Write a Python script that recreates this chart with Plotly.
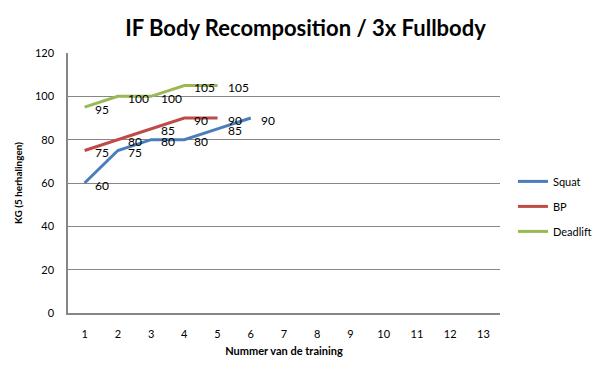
import plotly.graph_objects as go

categories = [str(i) for i in range(1, 14)]
squat = [60, 75, 80, 80, 85, 90]
bp = [75, 80, 85, 90, 90]
deadlift = [95, 100, 100, 105, 105]
series_names = ["Squat", "BP", "Deadlift"]
colors = ["#4A7EBB", "#BE4B48", "#98B954"]
FONT = "Lato, sans-serif"

fig = go.Figure()
for name, vals, col in zip(series_names, [squat, bp, deadlift], colors):
    fig.add_trace(go.Scatter(
        x=categories[:len(vals)], y=vals, name=name, mode="lines",
        line=dict(color=col, width=3), legendgroup=name,
    ))
    for i, v in enumerate(vals):
        fig.add_annotation(x=i, y=v, text=str(v), showarrow=False,
                           xanchor="left", yanchor="middle", xshift=8, yshift=-2,
                           font=dict(family=FONT, size=12, color="black"))

fig.update_layout(
    width=595, height=363,
    margin=dict(l=60, r=103, t=45, b=58, autoexpand=False),
    paper_bgcolor="white", plot_bgcolor="white",
    font=dict(family=FONT, size=11, color="black"),
    title=dict(text="<b>IF Body Recomposition / 3x Fullbody</b>", x=0.5, xanchor="center",
               y=0.945, yanchor="middle", font=dict(size=22, family=FONT)),
    legend=dict(x=1.03, y=0.41, xanchor="left", yanchor="middle",
                font=dict(size=11), tracegroupgap=6, itemwidth=30),
    xaxis=dict(type="category", categoryorder="array", categoryarray=categories,
               range=[-0.5, 12.5], showgrid=False, showline=True, linecolor="#868686",
               linewidth=1.5, ticks="", ticklabelstandoff=10, automargin=False,
               title=dict(text="<b>Nummer van de training</b>", font=dict(size=11), standoff=8)),
    yaxis=dict(range=[0, 120], dtick=20, showgrid=True, gridcolor="#868686", gridwidth=1,
               showline=True, linecolor="#868686", linewidth=1.5, zeroline=False,
               ticks="", ticklabelstandoff=10, automargin=False,
               title=dict(text="<b>KG (5 herhalingen)</b>", font=dict(size=10), standoff=10)),
)
fig.write_html("out.html")
